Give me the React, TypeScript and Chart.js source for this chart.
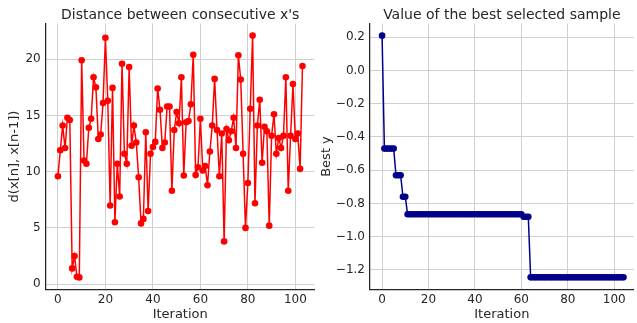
import React, { useEffect, useRef } from "react";
import { Chart, registerables } from "chart.js";

Chart.register(...registerables);

// ---------- data ----------
const distanceValues = [
  9.6, 11.9, 14.1, 12.1, 14.8, 14.6, 1.4, 2.5, 0.65, 0.6,
  19.9, 11.0, 10.7, 13.9, 14.7, 18.4, 17.5, 12.9, 13.3, 16.1,
  21.9, 16.3, 7.0, 17.45, 5.5, 10.7, 7.8, 19.6, 11.6, 10.7,
  19.3, 12.3, 14.1, 12.6, 9.5, 5.4, 5.8, 13.5, 6.5, 11.6,
  12.2, 12.65, 17.4, 15.5, 12.1, 12.6, 15.8, 15.8, 8.3, 13.7,
  15.3, 14.3, 18.4, 9.66, 14.4, 14.5, 16.0, 20.4, 9.7, 10.4,
  14.7, 10.1, 10.5, 8.8, 11.8, 14.1, 18.25, 13.7, 9.6, 13.4,
  3.8, 13.8, 12.8, 13.6, 14.8, 12.1, 20.35, 18.2, 11.6, 5.0,
  9.0, 15.6, 22.1, 7.2, 14.1, 16.4, 10.8, 14.0, 13.6, 5.2,
  13.2, 15.1, 11.6, 13.0, 12.1, 13.2, 18.4, 8.3, 13.2, 17.8,
  12.9, 13.4, 10.25, 19.4,
];

const bestYValues = [
  0.21,
  -0.47, -0.47, -0.47, -0.47, -0.47,
  -0.63, -0.63, -0.63,
  -0.76, -0.76,
  -0.865, -0.865, -0.865, -0.865, -0.865, -0.865, -0.865, -0.865, -0.865, -0.865,
  -0.865, -0.865, -0.865, -0.865, -0.865, -0.865, -0.865, -0.865, -0.865, -0.865,
  -0.865, -0.865, -0.865, -0.865, -0.865, -0.865, -0.865, -0.865, -0.865, -0.865,
  -0.865, -0.865, -0.865, -0.865, -0.865, -0.865, -0.865, -0.865, -0.865, -0.865,
  -0.865, -0.865, -0.865, -0.865, -0.865, -0.865, -0.865, -0.865, -0.865, -0.865,
  -0.88, -0.88, -0.88,
  -1.245, -1.245, -1.245, -1.245, -1.245, -1.245, -1.245, -1.245, -1.245, -1.245,
  -1.245, -1.245, -1.245, -1.245, -1.245, -1.245, -1.245, -1.245, -1.245, -1.245,
  -1.245, -1.245, -1.245, -1.245, -1.245, -1.245, -1.245, -1.245, -1.245, -1.245,
  -1.245, -1.245, -1.245, -1.245, -1.245, -1.245, -1.245, -1.245, -1.245, -1.245,
  -1.245,
];

const iterationTicks = [0, 20, 40, 60, 80, 100];
const distanceTicks = [0, 5, 10, 15, 20];
const bestYTicks = [0.2, 0.0, -0.2, -0.4, -0.6, -0.8, -1.0, -1.2];

const leftTitle = "Distance between consecutive x's";
const rightTitle = "Value of the best selected sample";
const leftYLabel = "d(x[n], x[n-1])";
const rightYLabel = "Best y";
const xLabel = "Iteration";

// ---------- style ----------
const FONT = "'DejaVu Sans', sans-serif";
const TEXT = "#262626";
const GRID = "#cfcfcf";
const SPINE = "#262626";

const titlePlugin = (text: string) => ({
  id: "customTitle",
  afterDraw(chart: any) {
    const { ctx, chartArea } = chart;
    ctx.save();
    ctx.font = `14px ${FONT}`;
    ctx.fillStyle = TEXT;
    ctx.textAlign = "center";
    ctx.textBaseline = "alphabetic";
    ctx.fillText(text, (chartArea.left + chartArea.right) / 2, 18.5);
    ctx.restore();
  },
});

function makeConfig(opts: {
  values: number[];
  color: string;
  radius: number;
  xMin: number;
  xMax: number;
  yMin: number;
  yMax: number;
  yTicks: number[];
  yFormat: (v: number) => string;
  yLabel: string;
  yWidth: number;
  yTitlePad: number;
  padRight: number;
  title: string;
}) {
  const points = opts.values.map((v, i) => ({ x: i, y: v }));
  return {
    type: "line" as const,
    data: {
      datasets: [
        {
          data: points,
          borderColor: opts.color,
          backgroundColor: opts.color,
          borderWidth: 1.5,
          pointRadius: opts.radius,
          pointBorderWidth: 0,
          pointHoverRadius: opts.radius,
          tension: 0,
        },
      ],
    },
    options: {
      responsive: false,
      animation: false,
      devicePixelRatio: 1,
      layout: { padding: { left: 0, top: 23.5, right: opts.padRight, bottom: 0 } },
      plugins: { legend: { display: false }, tooltip: { enabled: false } },
      scales: {
        x: {
          type: "linear",
          min: opts.xMin,
          max: opts.xMax,
          afterBuildTicks: (s: any) => {
            s.ticks = iterationTicks.map((v) => ({ value: v }));
          },
          afterFit: (s: any) => {
            s.height = 33.5;
          },
          ticks: {
            font: { family: FONT, size: 12 },
            color: TEXT,
            padding: 3,
            maxRotation: 0,
            autoSkip: false,
            callback: (v: number) => String(v),
          },
          grid: { color: GRID, lineWidth: 1, drawTicks: false },
          border: { color: SPINE, width: 1.25 },
          title: {
            display: true,
            text: xLabel,
            font: { family: FONT, size: 13 },
            color: TEXT,
            padding: { top: 0, bottom: 1 },
          },
        },
        y: {
          type: "linear",
          min: opts.yMin,
          max: opts.yMax,
          afterBuildTicks: (s: any) => {
            s.ticks = opts.yTicks.map((v) => ({ value: v }));
          },
          afterFit: (s: any) => {
            s.width = opts.yWidth;
          },
          ticks: {
            font: { family: FONT, size: 12 },
            color: TEXT,
            padding: 5,
            autoSkip: false,
            callback: (v: number) => opts.yFormat(v),
          },
          grid: { color: GRID, lineWidth: 1, drawTicks: false },
          border: { color: SPINE, width: 1.25 },
          title: {
            display: true,
            text: opts.yLabel,
            font: { family: FONT, size: 13 },
            color: TEXT,
            padding: { top: opts.yTitlePad, bottom: 0 },
          },
        },
      },
    },
    plugins: [titlePlugin(opts.title)],
  };
}

export default function App() {
  const leftRef = useRef<HTMLCanvasElement>(null);
  const rightRef = useRef<HTMLCanvasElement>(null);

  useEffect(() => {
    const left = new Chart(
      leftRef.current as HTMLCanvasElement,
      makeConfig({
        values: distanceValues,
        color: "#ff0000",
        radius: 3.3,
        xMin: -5.15,
        xMax: 108.15,
        yMin: -0.475,
        yMax: 23.175,
        yTicks: distanceTicks,
        yFormat: (v) => String(v),
        yLabel: leftYLabel,
        yWidth: 45.7,
        yTitlePad: 7,
        padRight: 3,
        title: leftTitle,
      }) as any
    );
    const right = new Chart(
      rightRef.current as HTMLCanvasElement,
      makeConfig({
        values: bestYValues,
        color: "#00008b",
        radius: 3.3,
        xMin: -5.2,
        xMax: 108.4,
        yMin: -1.318,
        yMax: 0.283,
        yTicks: bestYTicks,
        yFormat: (v) => {
          const r = Math.round(v * 10) / 10;
          return (r < 0 ? "\u2212" : "") + Math.abs(r).toFixed(1);
        },
        yLabel: rightYLabel,
        yWidth: 52,
        yTitlePad: 1,
        padRight: 0,
        title: rightTitle,
      }) as any
    );
    return () => {
      left.destroy();
      right.destroy();
    };
  }, []);

  return (
    <div
      style={{
        position: "fixed",
        left: 0,
        top: 0,
        width: 637,
        height: 323,
        overflow: "hidden",
        background: "#ffffff",
      }}
    >
      <canvas
        ref={leftRef}
        width={318}
        height={323}
        style={{ position: "absolute", left: 0, top: 0, width: 318, height: 323 }}
      />
      <canvas
        ref={rightRef}
        width={319}
        height={323}
        style={{ position: "absolute", left: 318, top: 0, width: 319, height: 323 }}
      />
    </div>
  );
}
